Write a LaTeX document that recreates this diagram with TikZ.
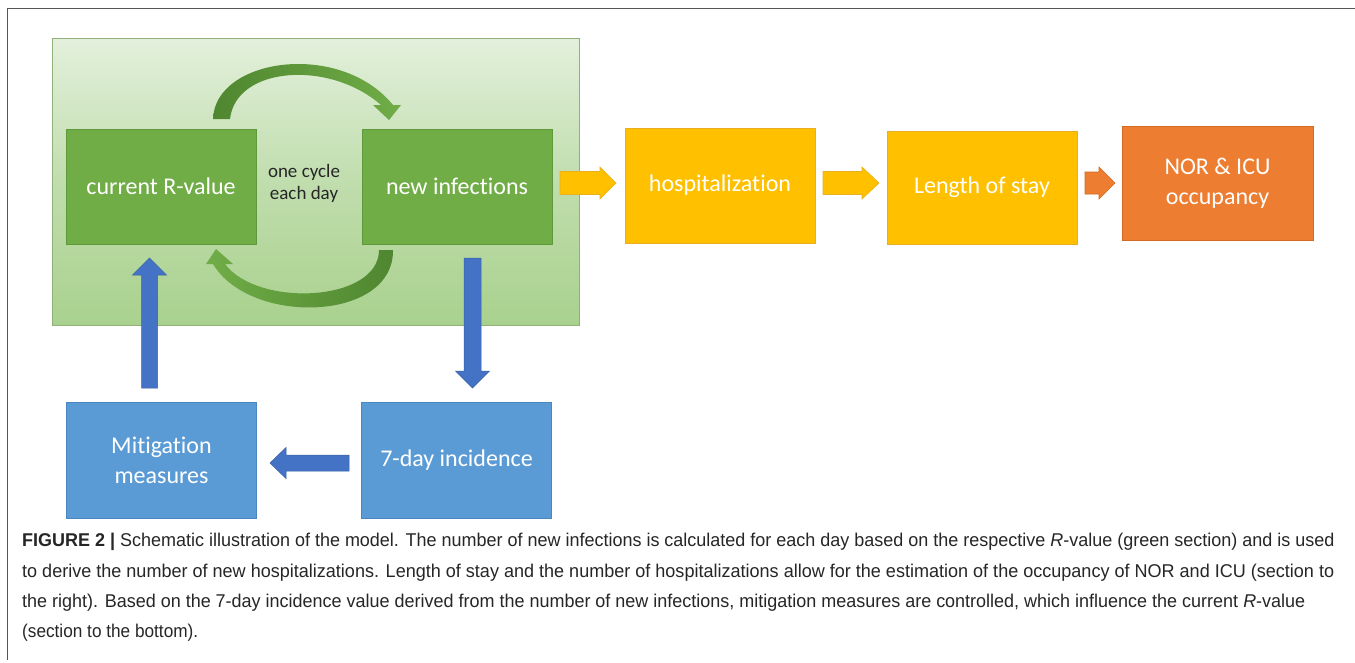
\documentclass[tikz,border=0pt]{standalone}
\usepackage{fontspec}
\usepackage{graphicx}
\setmainfont{Carlito}[RawFeature={-liga;-clig;-calt;-dlig}]
\newfontfamily\capfont{Liberation Sans}[FakeStretch=0.9]
\newcommand\nolg{\kern0pt }
\definecolor{gfill}{HTML}{70AD47}
\definecolor{gline}{HTML}{5E9A3A}
\definecolor{gdark}{HTML}{4F8630}
\definecolor{yfill}{HTML}{FFC000}
\definecolor{yline}{HTML}{E8B020}
\definecolor{ofill}{HTML}{ED7D31}
\definecolor{oline}{HTML}{D46A22}
\definecolor{bfill}{HTML}{5B9BD5}
\definecolor{bline}{HTML}{4A86C0}
\definecolor{barrow}{HTML}{4472C4}
\definecolor{bgtop}{HTML}{E3F0DC}
\definecolor{bgbot}{HTML}{A9D18E}
\definecolor{frame}{HTML}{555555}
\newcommand\blkH[7]{% y, x start, x head base, x tip, half shaft, half head, style
  \filldraw[#7] (#2,#1-#5) -- (#3,#1-#5) -- (#3,#1-#6) -- (#4,#1) -- (#3,#1+#6) -- (#3,#1+#5) -- (#2,#1+#5) -- cycle;}
\newcommand\blkV[7]{% x, y start, y head base, y tip, half shaft, half head, style
  \filldraw[#7] (#1-#5,#2) -- (#1-#5,#3) -- (#1-#6,#3) -- (#1,#4) -- (#1+#6,#3) -- (#1+#5,#3) -- (#1+#5,#2) -- cycle;}
\tikzset{
  box/.style={rectangle, minimum width=190pt, minimum height=115pt, inner sep=2pt,
    text=white, font=\fontsize{24}{30}\selectfont, align=center, line width=0.8pt},
  gbox/.style={box, fill=gfill, draw=gline},
  ybox/.style={box, fill=yfill, draw=yline},
  obox/.style={box, fill=ofill, draw=oline},
  bbox/.style={box, fill=bfill, draw=bline},
  yarr/.style={fill=yfill, draw=yline, line width=0.6pt},
  oarr/.style={fill=ofill, draw=oline, line width=0.6pt},
  barr/.style={fill=barrow, draw=barrow!85!black, line width=0.5pt},
  capline/.style={anchor=base west, inner sep=0pt, font=\capfont\fontsize{18.5}{22}\selectfont, text=black!85},
}
\begin{document}
\begin{tikzpicture}[x=1pt, y=-1pt]
\useasboundingbox (0,0) rectangle (1355,662);
\fill[white] (0,0) rectangle (1355,662);
% frame
\draw[frame, line width=1pt] (7,660) -- (7,8.5) -- (1355,8.5);
% green section
\shade[top color=bgtop, bottom color=bgbot, middle color=bgbot!60!bgtop] (52,38) rectangle (579,325);
\draw[bgbot!85!black, line width=0.6pt] (52,38) rectangle (579,325);
% boxes
\node[gbox] (R) at (161,186.5) {current R-value};
\node[gbox] (N) at (457,186.5) {new infect\nolg ions};
\node[font=\fontsize{19}{22}\selectfont, align=center, text=black!85] (C) at (304,183) {one cycle\\each day};
\node[ybox] (H) at (720,185.5) {hospitalizat\nolg ion};
\node[ybox, minimum height=113pt] (L) at (982,187.5) {Length of stay};
\node[obox, minimum width=191pt, minimum height=114pt] (O) at (1217.5,183) {NOR \& ICU\\occupancy};
\node[bbox, minimum height=116pt] (M) at (161.5,460) {Mit\nolg igat\nolg ion\\measures};
\node[bbox, minimum height=116pt] (I) at (456.5,460) {7-day incidence};
% curved arrows
\shade[left color=gdark, right color=gfill]
  (213,119) .. controls (215,58) and (340,40) .. (393,105) -- (401,105) -- (389,120) -- (373,105) -- (381,105)
  .. controls (330,60) and (236,66) .. (230,119) -- cycle;
\shade[left color=gfill, right color=gdark]
  (393,250) .. controls (394,322) and (250,326) .. (213,264) -- (206,264) -- (216,249) -- (233,264) -- (225,264)
  .. controls (258,308) and (379,302) .. (379,250) -- cycle;
% block arrows
\blkH{183}{560}{600}{616}{11.5}{16}{yarr}
\blkH{183}{823}{862}{879}{11.5}{16}{yarr}
\blkH{183}{1085}{1099}{1115}{11}{16}{oarr}
\blkV{149.5}{388}{275}{258}{8}{17}{barr}
\blkV{472.5}{258}{371}{388}{8.5}{17}{barr}
\blkH{463}{349}{286}{270}{8}{15.5}{barr}
% caption
\node[capline] (c1) at (22,546) {\resizebox{1312pt}{\height}{\textbf{FIGURE 2 |} Schematic illustration of the model. The number of new infections is calculated for each day based on the respective {\itshape R}-value (green section) and is used}};
\node[capline] (c2) at (22,577) {\resizebox{1312pt}{\height}{to derive the number of new hospitalizations. Length of stay and the number of hospitalizations allow for the estimation of the occupancy of NOR and ICU (section to}};
\node[capline] (c3) at (22,607) {\resizebox{1283pt}{\height}{the right). Based on the 7-day incidence value derived from the number of new infections, mitigation measures are controlled, which influence the current {\itshape R}-value}};
\node[capline] (c4) at (22,637) {\resizebox{176pt}{\height}{(section to the bottom).}};
\end{tikzpicture}
\end{document}
